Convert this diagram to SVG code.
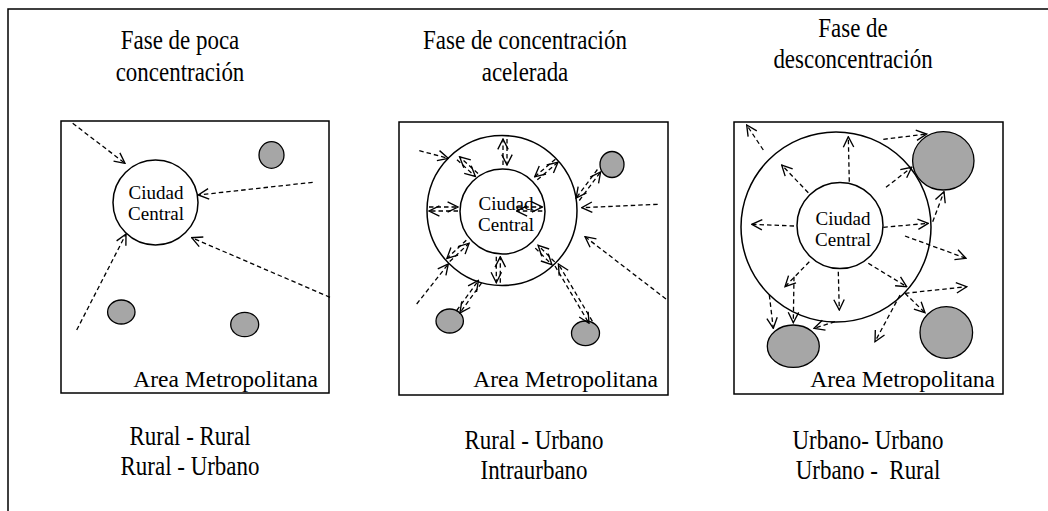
<svg xmlns="http://www.w3.org/2000/svg" width="1048" height="511" viewBox="0 0 1048 511">
<style>
.t{font-family:"Liberation Serif","Times New Roman",serif;fill:#000}
.title{font-size:27px;text-anchor:middle}
.foot{font-size:27px;text-anchor:middle}
.cc{font-size:19px;text-anchor:middle}
.am{font-size:23.5px;text-anchor:end}
.box{fill:#fff;stroke:#000;stroke-width:1.5}
.ring{fill:#fff;stroke:#000;stroke-width:1.5}
.grey{fill:#a6a6a6;stroke:#000;stroke-width:1.3}
.a{stroke:#000;stroke-width:1.3;stroke-dasharray:4.5 3;fill:none;marker-end:url(#ah)}
</style>
<defs>
<marker id="ah" viewBox="0 0 12 12" refX="11" refY="6" markerWidth="12.5" markerHeight="12.5" markerUnits="userSpaceOnUse" orient="auto">
<path d="M1,1 L11,6 L1,11" fill="none" stroke="#000" stroke-width="1.3"/>
</marker>
</defs>
<rect width="1048" height="511" fill="#fff"/>
<polyline points="8,511 8,9 1048,9" fill="none" stroke="#000" stroke-width="1.5"/>

<g id="titles">
<text class="t title" transform="translate(180 49) scale(0.85 1)">Fase de poca</text>
<text class="t title" transform="translate(180 81) scale(0.85 1)">concentración</text>
<text class="t title" transform="translate(525 49) scale(0.85 1)">Fase de concentración</text>
<text class="t title" transform="translate(525 81) scale(0.85 1)">acelerada</text>
<text class="t title" transform="translate(853 37) scale(0.85 1)">Fase de</text>
<text class="t title" transform="translate(853 68) scale(0.85 1)">desconcentración</text>
</g>

<g id="panel1">
<rect class="box" x="61" y="121" width="268" height="272"/>
<circle class="ring" cx="155.5" cy="202.5" r="42.5"/>
<text class="t cc" x="156" y="199">Ciudad</text>
<text class="t cc" x="156" y="220">Central</text>
<ellipse class="grey" cx="271.5" cy="155" rx="12.5" ry="13.3"/>
<ellipse class="grey" cx="121.3" cy="312" rx="13.7" ry="12"/>
<ellipse class="grey" cx="244.7" cy="324.5" rx="14" ry="12.2"/>
<text class="t am" x="318" y="387">Area Metropolitana</text>
</g>

<g id="panel2">
<rect class="box" x="399" y="122" width="269" height="273"/>
<circle class="ring" cx="502" cy="210.5" r="75"/>
<circle class="ring" cx="502.5" cy="211.5" r="42.5"/>
<text class="t cc" x="506" y="210">Ciudad</text>
<text class="t cc" x="506" y="231">Central</text>
<ellipse class="grey" cx="612" cy="164.5" rx="12" ry="13"/>
<ellipse class="grey" cx="449.7" cy="321" rx="13.7" ry="12"/>
<ellipse class="grey" cx="585.5" cy="333.3" rx="14" ry="12.3"/>
<text class="t am" x="658" y="387">Area Metropolitana</text>
</g>

<g id="panel3">
<rect class="box" x="734" y="122" width="269" height="272"/>
<circle class="ring" cx="836" cy="227" r="95"/>
<circle class="ring" cx="840" cy="225.5" r="43"/>
<text class="t cc" x="843" y="225">Ciudad</text>
<text class="t cc" x="843" y="246">Central</text>
<ellipse class="grey" cx="943.3" cy="160.8" rx="30.7" ry="29.2"/>
<ellipse class="grey" cx="793.3" cy="346.2" rx="26" ry="21.2"/>
<ellipse class="grey" cx="946.3" cy="332.5" rx="26.3" ry="25.8"/>
<text class="t am" x="995" y="387">Area Metropolitana</text>
</g>

<g id="connectors">
<!-- panel 1 -->
<line class="a" x1="72.7" y1="123.3" x2="125" y2="163.3"/>
<line class="a" x1="312.7" y1="182.3" x2="198.3" y2="195"/>
<line class="a" x1="330" y1="297.3" x2="191.7" y2="237.7"/>
<line class="a" x1="76.7" y1="330" x2="126" y2="234"/>
<!-- panel 2 radial double arrows -->
<line class="a" x1="503" y1="165" x2="503" y2="139"/>
<line class="a" x1="507" y1="139" x2="507" y2="165"/>
<line class="a" x1="457" y1="159.8" x2="475.4" y2="176.5"/>
<line class="a" x1="478" y1="173.5" x2="459.6" y2="156.8"/>
<line class="a" x1="429" y1="207" x2="458" y2="207"/>
<line class="a" x1="458" y1="211" x2="429" y2="211"/>
<line class="a" x1="537.3" y1="179.8" x2="558" y2="162.2"/>
<line class="a" x1="555.4" y1="159.2" x2="534.7" y2="176.8"/>
<line class="a" x1="516.7" y1="207" x2="542.3" y2="207"/>
<line class="a" x1="542.3" y1="211" x2="516.7" y2="211"/>
<line class="a" x1="449.7" y1="261.5" x2="469.1" y2="243.2"/>
<line class="a" x1="466.3" y1="240.2" x2="446.9" y2="258.5"/>
<line class="a" x1="496.3" y1="256.7" x2="496.3" y2="282.7"/>
<line class="a" x1="500.3" y1="282.7" x2="500.3" y2="256.7"/>
<line class="a" x1="535.3" y1="248.1" x2="551.9" y2="264.7"/>
<line class="a" x1="554.7" y1="261.9" x2="538.1" y2="245.3"/>
<!-- panel 2 external -->
<line class="a" x1="419.3" y1="150.7" x2="448.3" y2="158.3"/>
<line class="a" x1="416.7" y1="304" x2="448.3" y2="264"/>
<line class="a" x1="657.7" y1="204.3" x2="581.7" y2="207.7"/>
<line class="a" x1="666" y1="299" x2="585" y2="236.7"/>
<line class="a" x1="579.3" y1="200.5" x2="600.6" y2="171.9"/>
<line class="a" x1="597.4" y1="169.5" x2="576.1" y2="198.1"/>
<line class="a" x1="481.6" y1="282.9" x2="459.9" y2="312.9"/>
<line class="a" x1="456.7" y1="310.5" x2="478.4" y2="280.5"/>
<line class="a" x1="555" y1="266" x2="589" y2="323.3"/>
<line class="a" x1="592.4" y1="321.3" x2="558.4" y2="264"/>
<!-- panel 3 -->
<line class="a" x1="763.3" y1="150" x2="746.7" y2="125"/>
<line class="a" x1="849.3" y1="181.7" x2="848.3" y2="136.7"/>
<line class="a" x1="808.3" y1="192.7" x2="781.7" y2="165"/>
<line class="a" x1="794" y1="226" x2="751.7" y2="224.3"/>
<line class="a" x1="883.3" y1="227.3" x2="928.3" y2="223.3"/>
<line class="a" x1="886" y1="187.3" x2="911.7" y2="167.3"/>
<line class="a" x1="883.3" y1="139.3" x2="926.7" y2="134"/>
<line class="a" x1="932.7" y1="221.7" x2="944" y2="191.7"/>
<line class="a" x1="905" y1="236" x2="966" y2="258.3"/>
<line class="a" x1="868.3" y1="263.3" x2="906.7" y2="286.7"/>
<line class="a" x1="905" y1="293.3" x2="966.7" y2="286.7"/>
<line class="a" x1="905" y1="293.3" x2="925" y2="312.7"/>
<line class="a" x1="900" y1="295" x2="875" y2="341.7"/>
<line class="a" x1="838.3" y1="271.7" x2="839.3" y2="310"/>
<line class="a" x1="809.3" y1="261.7" x2="785" y2="286.7"/>
<line class="a" x1="794" y1="276.7" x2="793.3" y2="322.7"/>
<line class="a" x1="769.3" y1="295" x2="773.3" y2="328.3"/>
<line class="a" x1="835" y1="321.7" x2="814" y2="328.3"/>
</g>

<g id="footers">
<text class="t foot" transform="translate(190 445) scale(0.85 1)">Rural - Rural</text>
<text class="t foot" transform="translate(190 475) scale(0.85 1)">Rural - Urbano</text>
<text class="t foot" transform="translate(534 449) scale(0.85 1)">Rural - Urbano</text>
<text class="t foot" transform="translate(534 479) scale(0.85 1)">Intraurbano</text>
<text class="t foot" transform="translate(868 449) scale(0.85 1)">Urbano- Urbano</text>
<text class="t foot" transform="translate(868 479) scale(0.85 1)" xml:space="preserve">Urbano -  Rural</text>
</g>
</svg>
